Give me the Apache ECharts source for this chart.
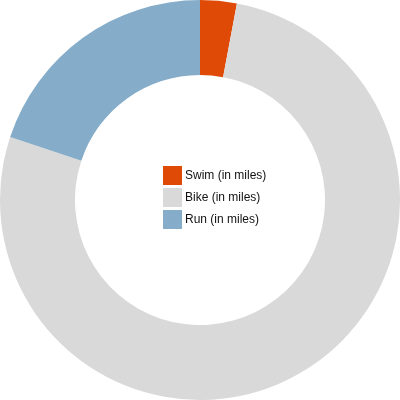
<!DOCTYPE html>
<html>
<head>
<meta charset="utf-8">
<script src="https://cdn.jsdelivr.net/npm/echarts@6/dist/echarts.min.js"></script>
<style>
html, body { margin: 0; padding: 0; background: #fff; }
#chart { width: 400px; height: 400px; }
</style>
</head>
<body>
<div id="chart"></div>
<script>
// triathlon legs, distances
var legs = ['Swim (in miles)', 'Bike (in miles)', 'Run (in miles)'];
var miles = [0.95, 24.8, 6.4];
var colors = ['#df4a06', '#d9d9d9', '#85acc8'];

var chart = echarts.init(document.getElementById('chart'));
chart.setOption({
    animation: false,
    color: colors,
    legend: {
        orient: 'vertical',
        left: 163,
        top: 166,
        padding: 0,
        itemWidth: 19,
        itemHeight: 19,
        itemGap: 3,
        icon: 'rect',
        selectedMode: false,
        textStyle: {
            fontFamily: 'Liberation Sans, Arial, sans-serif',
            fontSize: 12,
            color: '#111',
            padding: [0, 0, 0, -2]
        },
        data: legs
    },
    series: [
        {
            type: 'pie',
            center: [200, 200],
            radius: [125, 200],
            startAngle: 90,
            clockwise: true,
            label: { show: false },
            labelLine: { show: false },
            emphasis: { disabled: true },
            itemStyle: { borderWidth: 0 },
            data: legs.map(function (name, i) {
                return { name: name, value: miles[i] };
            })
        }
    ]
});
</script>
</body>
</html>
